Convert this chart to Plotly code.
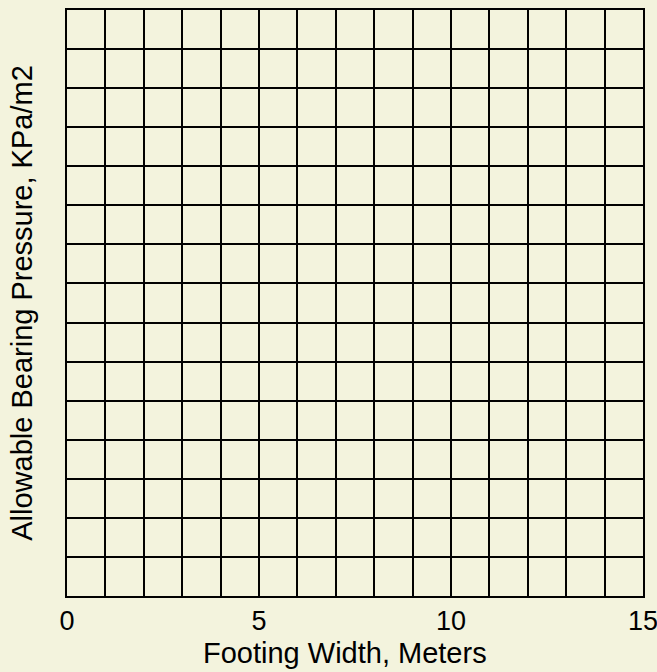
import plotly.graph_objects as go

# Axis values
x_range = [0, 15]
y_range = [0, 15]
x_tick_values = [0, 5, 10, 15]
x_tick_labels = ["0", "5", "10", "15"]
grid_step_x = 1
grid_step_y = 1

x_title = "Footing Width, Meters"
y_title = "Allowable Bearing Pressure, KPa/m2"

bg = "#F3F3DD"
font_family = "Liberation Sans, Arial, sans-serif"

fig = go.Figure()
fig.add_trace(go.Scatter(x=[], y=[], mode="markers", showlegend=False))

fig.update_layout(
    width=657,
    height=672,
    paper_bgcolor=bg,
    plot_bgcolor=bg,
    margin=dict(l=67, r=14, t=10, b=76, pad=0, autoexpand=False),
    font=dict(family=font_family, size=28, color="black"),
    showlegend=False,
)

fig.update_xaxes(
    range=[x_range[0] - 1e-6, x_range[1] + 1e-6],
    tickvals=x_tick_values,
    ticktext=x_tick_labels,
    ticks="",
    ticklabeloverflow="allow",
    automargin=False,
    showgrid=True,
    gridcolor="black",
    gridwidth=2,
    minor=dict(dtick=grid_step_x, showgrid=True, gridcolor="black", gridwidth=2),
    showline=True,
    linecolor="black",
    linewidth=2,
    mirror=True,
    zeroline=False,
    tickfont=dict(size=27),
    fixedrange=True,
)
fig.update_yaxes(
    range=y_range,
    dtick=grid_step_y,
    showticklabels=False,
    ticks="",
    automargin=False,
    showgrid=True,
    gridcolor="black",
    gridwidth=2,
    showline=True,
    linecolor="black",
    linewidth=2,
    mirror=True,
    zeroline=False,
    title=dict(text=y_title, font=dict(size=29), standoff=24),
    fixedrange=True,
)

fig.add_annotation(
    text=x_title,
    xref="paper", yref="paper",
    x=0.483, y=0, yshift=-39,
    xanchor="center", yanchor="top",
    showarrow=False,
    font=dict(size=29, family=font_family, color="black"),
)

fig.write_html(
    "out.html",
    config={"displayModeBar": False},
    post_script="document.body.style.margin='0';document.body.style.background='%s';" % bg,
)
